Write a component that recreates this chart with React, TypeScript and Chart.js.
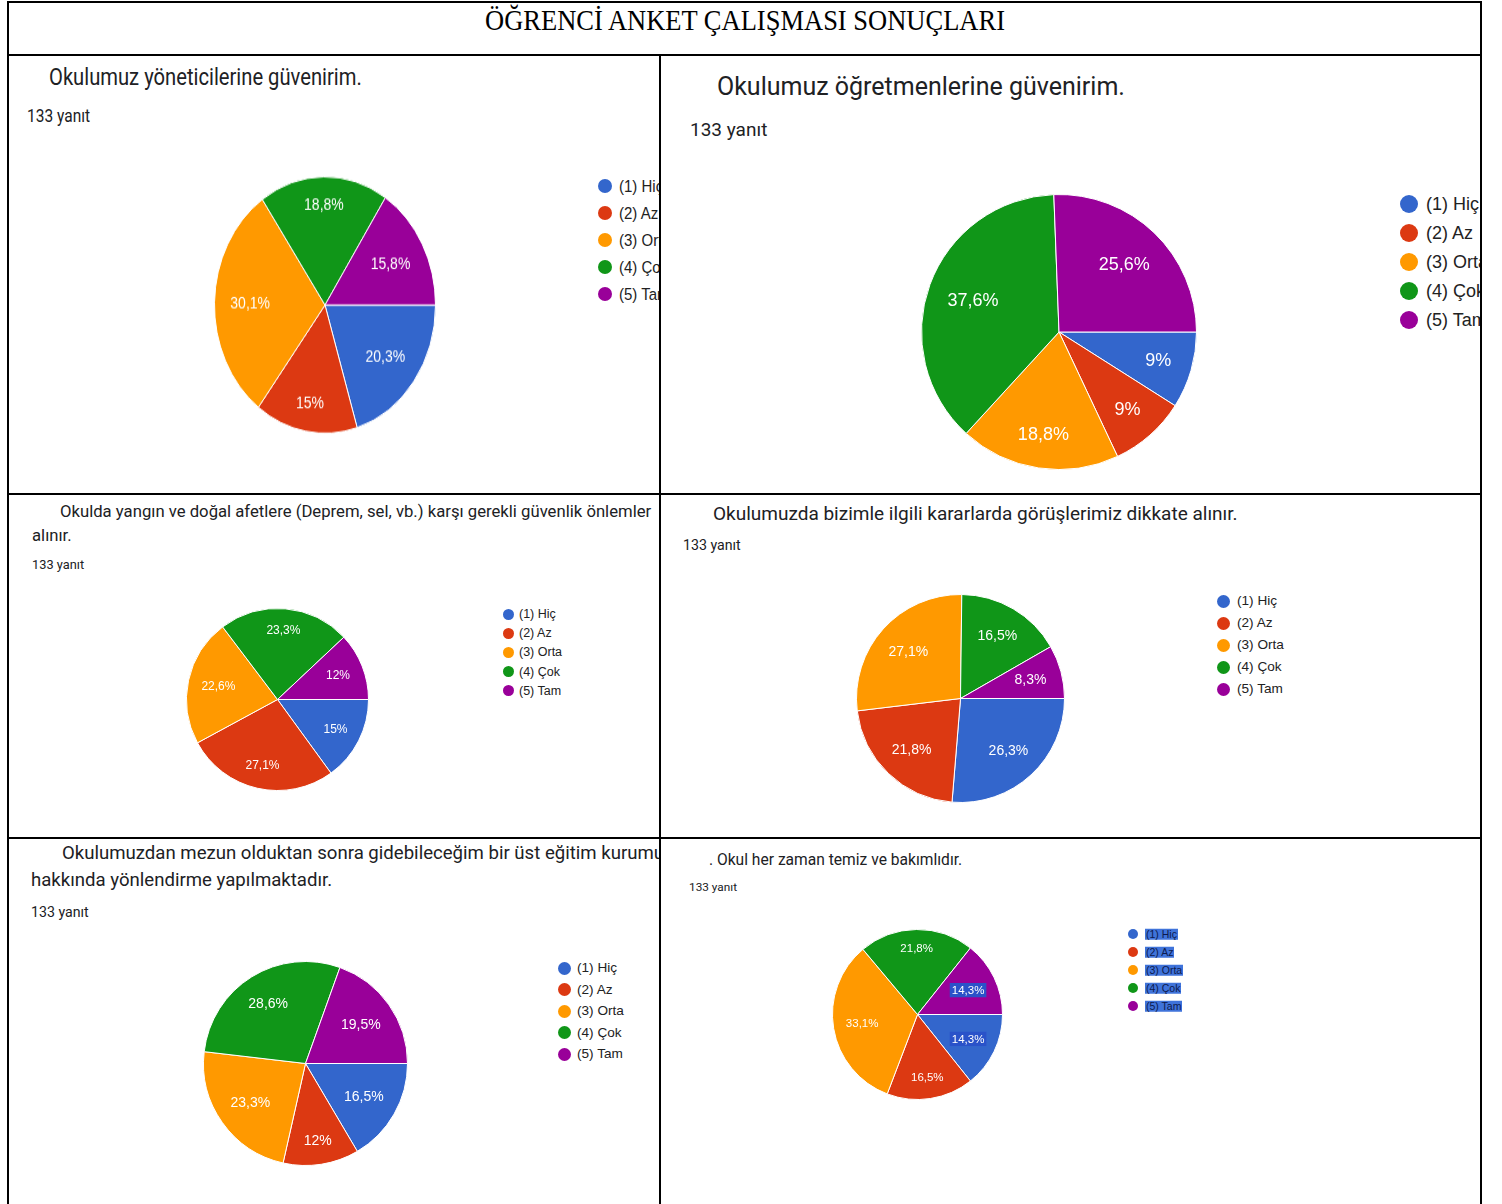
import React, { useEffect, useRef } from 'react';
import { Chart, registerables } from 'chart.js';

Chart.register(...registerables);

// ---------- DATA ----------
const pageTitle = 'ÖĞRENCİ ANKET ÇALIŞMASI SONUÇLARI';
const categories = ['(1) Hiç', '(2) Az', '(3) Orta', '(4) Çok', '(5) Tam'];
const responseLabel = '133 yanıt';

const q1Title = ['Okulumuz yöneticilerine güvenirim.'];
const q1Values = [20.3, 15, 30.1, 18.8, 15.8];

const q2Title = ['Okulumuz öğretmenlerine güvenirim.'];
const q2Values = [9, 9, 18.8, 37.6, 25.6];

const q3Title = ['Okulda yangın ve doğal afetlere (Deprem, sel, vb.) karşı gerekli güvenlik önlemler', 'alınır.'];
const q3Values = [15, 27.1, 22.6, 23.3, 12];

const q4Title = ['Okulumuzda bizimle ilgili kararlarda görüşlerimiz dikkate alınır.'];
const q4Values = [26.3, 21.8, 27.1, 16.5, 8.3];

const q5Title = ['Okulumuzdan mezun olduktan sonra gidebileceğim bir üst eğitim kurumu', 'hakkında yönlendirme yapılmaktadır.'];
const q5Values = [16.5, 12, 23.3, 28.6, 19.5];

const q6Title = ['. Okul her zaman temiz ve bakımlıdır.'];
const q6Values = [14.3, 16.5, 33.1, 21.8, 14.3];

// ---------- STYLE ----------
const sliceColors = ['#3366cc', '#dc3912', '#ff9900', '#109618', '#990099'];
const textColor = '#202124';
const legendColor = '#222222';
const labelFont = '"Liberation Sans", Arial, sans-serif';
const formFont = 'Roboto, "Noto Sans", sans-serif';

const fmtPct = (v: number) => String(v).replace('.', ',') + '%';

function makeLabelPlugin(fontSize: number, highlight: number[]) {
  return {
    id: 'sliceLabels',
    afterDatasetsDraw(chart: any) {
      const ctx = chart.ctx as CanvasRenderingContext2D;
      const meta = chart.getDatasetMeta(0);
      const values = chart.data.datasets[0].data as number[];
      ctx.save();
      ctx.font = `${fontSize}px ${labelFont}`;
      ctx.textAlign = 'center';
      ctx.textBaseline = 'middle';
      meta.data.forEach((arc: any, i: number) => {
        const p = arc.getProps(['x', 'y', 'startAngle', 'endAngle', 'outerRadius'], true);
        const mid = (p.startAngle + p.endAngle) / 2;
        const c = Math.cos(mid);
        const s = Math.sin(mid);
        const text = fmtPct(values[i]);
        const w = ctx.measureText(text).width;
        const h = fontSize * 0.9;
        const a = Math.sign(c) * w / 2;
        const b = Math.sign(s) * h / 2;
        const R = p.outerRadius * 0.86;
        const k = c * a + s * b;
        const d = -k + Math.sqrt(Math.max(k * k - (a * a + b * b - R * R), 0));
        const lx = p.x + d * c;
        const ly = p.y + d * s;
        if (highlight.includes(i)) {
          ctx.fillStyle = '#2a52c9';
          ctx.fillRect(lx - w / 2 - 2, ly - fontSize * 0.62, w + 4, fontSize * 1.24);
        }
        ctx.fillStyle = '#ffffff';
        ctx.fillText(text, lx, ly + 0.5);
      });
      ctx.restore();
    },
  };
}

function Pie({ values, size, fontSize, highlight }: { values: number[]; size: number; fontSize: number; highlight: number[] }) {
  const ref = useRef<HTMLCanvasElement | null>(null);
  useEffect(() => {
    if (!ref.current) return;
    const chart = new Chart(ref.current, {
      type: 'pie',
      data: {
        labels: categories,
        datasets: [
          {
            data: values,
            backgroundColor: sliceColors,
            borderColor: '#ffffff',
            borderWidth: 1,
          },
        ],
      },
      options: {
        responsive: false,
        animation: false,
        rotation: 90,
        layout: { padding: 0 },
        plugins: { legend: { display: false }, tooltip: { enabled: false } },
      },
      plugins: [makeLabelPlugin(fontSize, highlight)],
    } as any);
    return () => chart.destroy();
  }, []);
  return <canvas ref={ref} width={size} height={size} style={{ width: size, height: size, display: 'block' }} />;
}

// ---------- LAYOUT ----------
type CellSpec = {
  x0: number; y0: number; w: number; h: number;
  title: string[]; values: number[];
  titleLines: { x: number; cy: number }[]; titleFs: number;
  resp: { x: number; cy: number; fs: number };
  pie: { cx: number; cy: number; r: number; sy: number; fs: number; highlight: number[] };
  legend: { cx: number; y0: number; dy: number; d: number; tx: number; fs: number; hl: boolean };
  sy: number;
};

const cells: CellSpec[] = [
  {
    x0: 8, y0: 56, w: 652, h: 438, title: q1Title, values: q1Values,
    titleLines: [{ x: 49, cy: 77 }], titleFs: 20.2,
    resp: { x: 27, cy: 117, fs: 15.5 },
    pie: { cx: 325, cy: 305, r: 110.5, sy: 1.16, fs: 14, highlight: [] },
    legend: { cx: 605, y0: 186, dy: 27, d: 14, tx: 619, fs: 15, hl: false },
    sy: 1.16,
  },
  {
    x0: 660, y0: 56, w: 821, h: 438, title: q2Title, values: q2Values,
    titleLines: [{ x: 717, cy: 86 }], titleFs: 25,
    resp: { x: 690, cy: 129, fs: 19 },
    pie: { cx: 1059, cy: 332, r: 137.5, sy: 1, fs: 18, highlight: [] },
    legend: { cx: 1409, y0: 204, dy: 29, d: 18, tx: 1426, fs: 18, hl: false },
    sy: 1,
  },
  {
    x0: 8, y0: 494, w: 652, h: 344, title: q3Title, values: q3Values,
    titleLines: [{ x: 60, cy: 512 }, { x: 32, cy: 536 }], titleFs: 16.7,
    resp: { x: 32, cy: 565, fs: 12.8 },
    pie: { cx: 277, cy: 699, r: 91, sy: 1, fs: 12, highlight: [] },
    legend: { cx: 508, y0: 614, dy: 19.2, d: 11, tx: 519, fs: 12.5, hl: false },
    sy: 1,
  },
  {
    x0: 660, y0: 494, w: 821, h: 344, title: q4Title, values: q4Values,
    titleLines: [{ x: 713, cy: 513 }], titleFs: 19,
    resp: { x: 683, cy: 545, fs: 14.2 },
    pie: { cx: 960.5, cy: 698, r: 104, sy: 1, fs: 14, highlight: [] },
    legend: { cx: 1223, y0: 601, dy: 22, d: 13, tx: 1237, fs: 13.6, hl: false },
    sy: 1,
  },
  {
    x0: 8, y0: 838, w: 652, h: 366, title: q5Title, values: q5Values,
    titleLines: [{ x: 62, cy: 853 }, { x: 31, cy: 880 }], titleFs: 18.6,
    resp: { x: 31, cy: 912, fs: 14.2 },
    pie: { cx: 305, cy: 1063, r: 102, sy: 1, fs: 14, highlight: [] },
    legend: { cx: 564, y0: 968, dy: 21.5, d: 13, tx: 577, fs: 13.6, hl: false },
    sy: 1,
  },
  {
    x0: 660, y0: 838, w: 821, h: 366, title: q6Title, values: q6Values,
    titleLines: [{ x: 709, cy: 861 }], titleFs: 15.6,
    resp: { x: 689, cy: 888, fs: 11.8 },
    pie: { cx: 917, cy: 1014, r: 85, sy: 1, fs: 11.5, highlight: [0, 4] },
    legend: { cx: 1133, y0: 934, dy: 18, d: 10, tx: 1145, fs: 10.5, hl: true },
    sy: 1,
  },
];

function TextAt({ x, cy, fs, text, font, color, sy, extra }: any) {
  return (
    <div
      style={{
        position: 'absolute', left: x, top: cy, fontSize: fs, lineHeight: 1, whiteSpace: 'nowrap',
        fontFamily: font, color, transform: `translateY(-50%) scaleY(${sy || 1})`, transformOrigin: 'left center',
        ...(extra || {}),
      }}
    >
      {text}
    </div>
  );
}

function Cell({ spec }: { spec: CellSpec }) {
  const { x0, y0, w, h, pie, legend, resp } = spec;
  const size = Math.round(pie.r * 2 + 1);
  return (
    <div style={{ position: 'absolute', left: x0, top: y0, width: w, height: h, overflow: 'hidden', background: '#ffffff' }}>
      {spec.title.map((line, i) => (
        <TextAt key={i} x={spec.titleLines[i].x - x0} cy={spec.titleLines[i].cy - y0} fs={spec.titleFs} text={line} font={formFont} color={textColor} sy={spec.sy} />
      ))}
      <TextAt x={resp.x - x0} cy={resp.cy - y0} fs={resp.fs} text={responseLabel} font={formFont} color={textColor} sy={spec.sy} />
      <div
        style={{
          position: 'absolute', left: pie.cx - x0 - size / 2, top: pie.cy - y0 - size / 2, width: size, height: size,
          transform: `scaleY(${pie.sy})`, transformOrigin: 'center center',
        }}
      >
        <Pie values={spec.values} size={size} fontSize={pie.fs} highlight={pie.highlight} />
      </div>
      {categories.map((cat, i) => {
        const cy = legend.y0 + i * legend.dy - y0;
        return (
          <React.Fragment key={cat}>
            <div
              style={{
                position: 'absolute', left: legend.cx - x0 - legend.d / 2, top: cy - legend.d / 2,
                width: legend.d, height: legend.d, borderRadius: '50%', background: sliceColors[i],
              }}
            />
            <TextAt
              x={legend.tx - x0} cy={cy} fs={legend.fs} text={cat} font={labelFont} color={legend.hl ? '#0d1a4d' : legendColor} sy={spec.sy}
              extra={legend.hl ? { background: '#3f73da', padding: '0 1px' } : undefined}
            />
          </React.Fragment>
        );
      })}
    </div>
  );
}

const lines = [
  { x: 8, y: 1, w: 1474, h: 2 },
  { x: 8, y: 54, w: 1474, h: 2 },
  { x: 8, y: 493, w: 1474, h: 2 },
  { x: 8, y: 837, w: 1474, h: 2 },
  { x: 7, y: 1, w: 2, h: 1203 },
  { x: 659, y: 55, w: 2, h: 1149 },
  { x: 1480, y: 1, w: 2, h: 1203 },
];

export default function App() {
  return (
    <div style={{ position: 'absolute', left: 0, top: 0, width: 1502, height: 1204, overflow: 'hidden', background: '#ffffff' }}>
      <div
        style={{
          position: 'absolute', left: 0, width: 1490, top: 21, textAlign: 'center', fontFamily: '"Liberation Serif", "DejaVu Serif", serif',
          fontSize: 26.5, lineHeight: 1, color: '#000', transform: 'translateY(-50%) scaleY(1.08)', whiteSpace: 'nowrap',
        }}
      >
        {pageTitle}
      </div>
      {cells.map((c, i) => (
        <Cell key={i} spec={c} />
      ))}
      {lines.map((l, i) => (
        <div key={i} style={{ position: 'absolute', left: l.x, top: l.y, width: l.w, height: l.h, background: '#000' }} />
      ))}
    </div>
  );
}
